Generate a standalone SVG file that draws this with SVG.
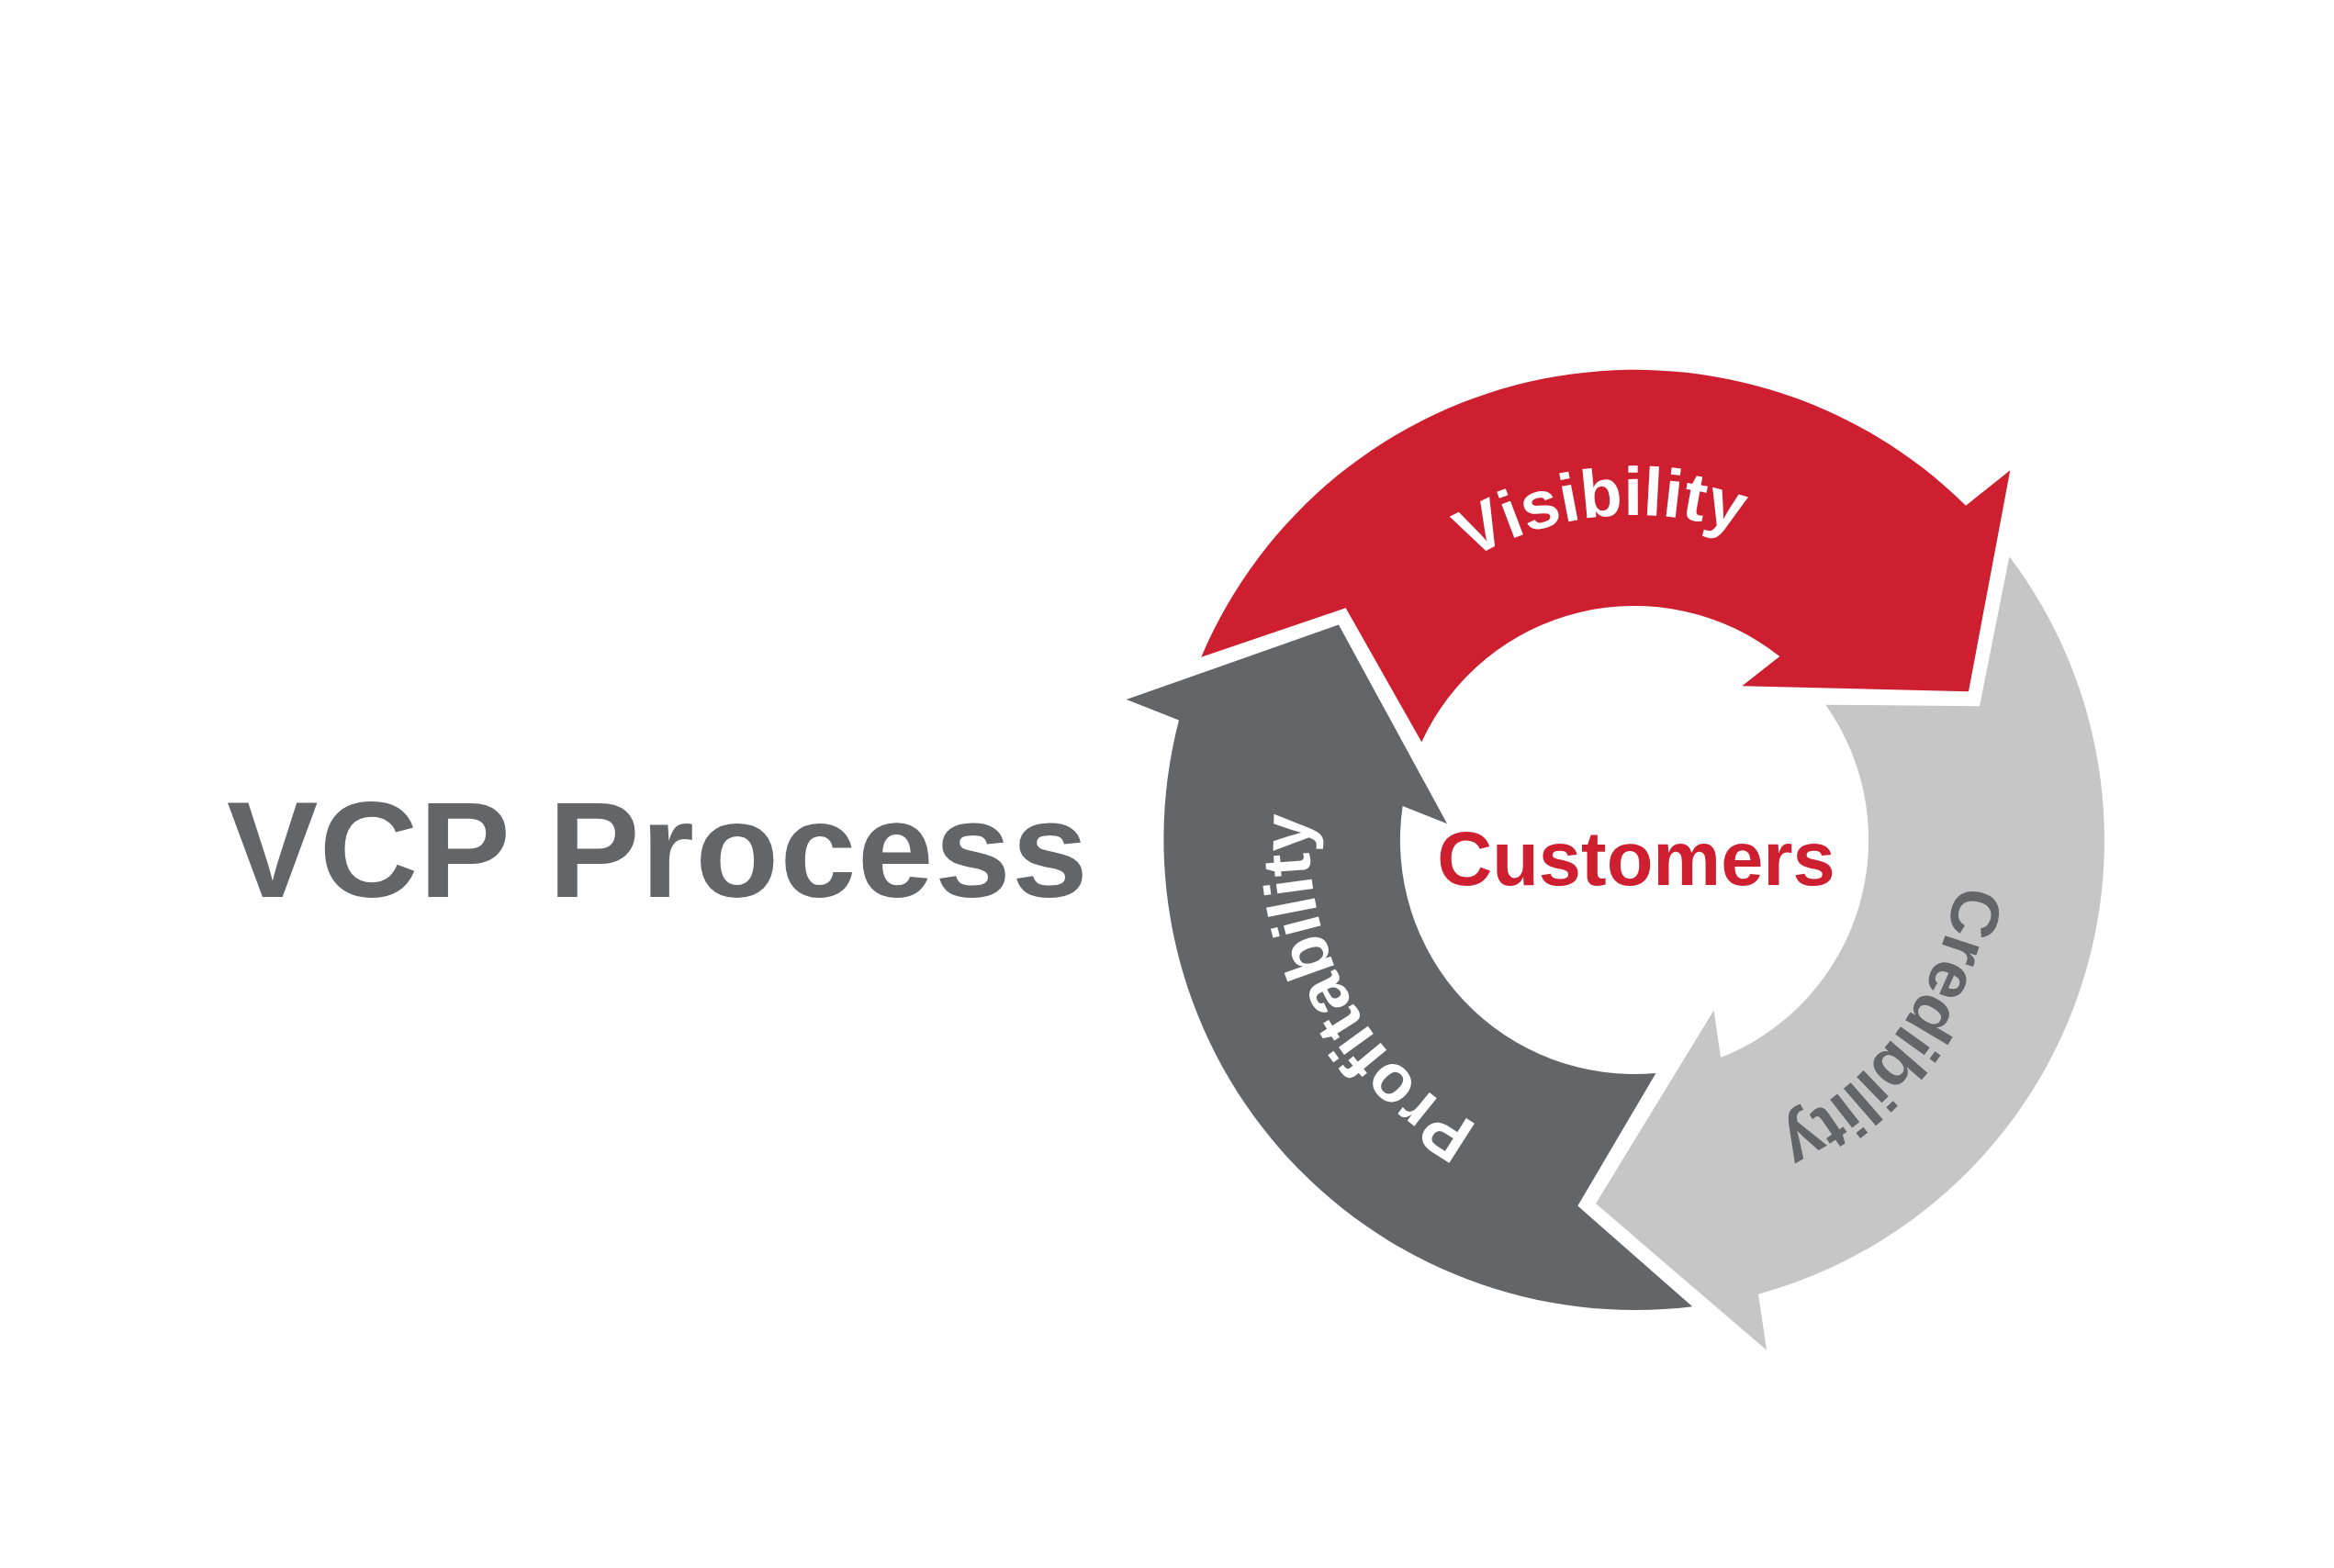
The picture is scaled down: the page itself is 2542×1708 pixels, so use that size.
<svg xmlns="http://www.w3.org/2000/svg" xmlns:xlink="http://www.w3.org/1999/xlink" width="2542" height="1708" viewBox="0 0 2542 1708">
  <style>
    .lbl { font-family: "Liberation Sans", Arial, sans-serif; font-weight: bold; }
    .arc-lbl { font-size: 74px; }
    .red { fill: #CD1F30; }
    .dark { fill: #646569; }
    .light { fill: #C6C6C6; }
    .white { fill: #FFFFFF; }
  </style>
  <defs>
    <path id="arrow" d="M 1308.3,715.7 A 513 513 0 0 1 2141,550.7 L 2189.3,512.3 L 2144,753.3 L 1897.3,747.3 L 1938.3,715 A 255 255 0 0 0 1548.3,808.3 L 1465.7,662.3 Z"/>
    <path id="ring" d="M 1780,1269 A 354 354 0 0 1 1780,561 A 354 354 0 0 1 1780,1269"/>
  </defs>
  <rect width="2542" height="1708" fill="#FFFFFF"/>

  <g id="title">
    <text class="lbl dark" x="247" y="977" font-size="149" letter-spacing="1.3">VCP Process</text>
  </g>

  <g id="visibility">
    <use xlink:href="#arrow" href="#arrow" class="red"/>
    <text class="lbl arc-lbl white" text-anchor="middle"><textPath xlink:href="#ring" href="#ring" startOffset="48.4%">Visibility</textPath></text>
  </g>

  <g id="credibility">
    <use xlink:href="#arrow" href="#arrow" class="light" transform="rotate(120 1780 915)"/>
    <text class="lbl arc-lbl dark" text-anchor="middle" letter-spacing="-1.5"><textPath xlink:href="#ring" href="#ring" startOffset="84.95%">Credibility</textPath></text>
  </g>

  <g id="profitability">
    <use xlink:href="#arrow" href="#arrow" class="dark" transform="rotate(240 1780 915)"/>
    <text class="lbl arc-lbl white" text-anchor="middle"><textPath xlink:href="#ring" href="#ring" startOffset="17.1%">Profitability</textPath></text>
  </g>

  <g id="customers">
    <text class="lbl red" x="1782" y="964" font-size="83" text-anchor="middle">Customers</text>
  </g>
</svg>
